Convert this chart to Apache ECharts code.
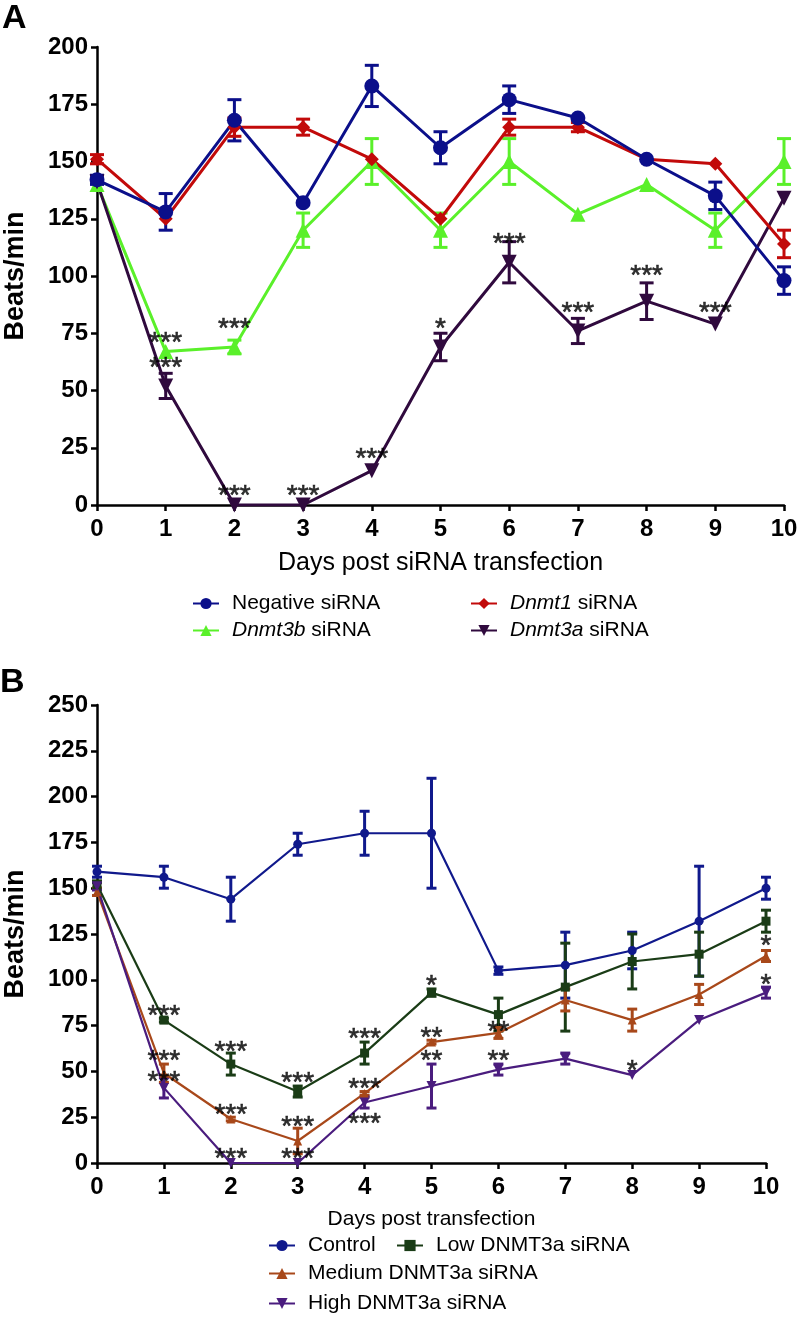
<!DOCTYPE html>
<html>
<head>
<meta charset="utf-8">
<script src="https://cdn.jsdelivr.net/npm/echarts@6/dist/echarts.min.js"></script>
<style>
  html, body { margin: 0; padding: 0; background: #fff; }
  #chart { width: 800px; height: 1320px; }
</style>
</head>
<body>
<div id="chart"></div>
<script>
// ---- data ----
const days = [0, 1, 2, 3, 4, 5, 6, 7, 8, 9, 10];

// panel A (mean, SEM)
const negMean    = [142, 128, 168, 132, 183, 156, 177, 169, 151, 135, 98];
const negErr     = [2, 8, 9, 0, 9, 7, 6, 0, 0, 6, 6];
const dnmt1Mean  = [151, 125, 165, 165, 151, 125, 165, 165, 151, 149, 114];
const dnmt1Err   = [2, 0, 4, 3.5, 0, 0, 3.5, 2, 0, 0, 6];
const dnmt3bMean = [140, 67, 69, 120, 150, 120, 150, 127, 140, 120, 150];
const dnmt3bErr  = [0, 0, 3, 7.5, 10, 7.5, 10, 0, 0, 7.5, 10];
const dnmt3aMean = [141, 52, 0, 0, 15, 69, 106, 76, 89, 79, 134];
const dnmt3aErr  = [0, 5.5, 0, 0, 0, 6, 9, 5.5, 8, 0, 0];

// panel A significance marks
const starsAx    = [1, 1, 2, 2, 3, 4, 5, 6, 7, 8, 9];
const starsAy    = [73, 62, 79, 6, 6, 22, 79, 116, 86, 102, 86];
const starsAtext = ['***', '***', '***', '***', '***', '***', '*', '***', '***', '***', '***'];

// panel B (mean, SEM)
const ctrlMean = [159, 156, 144, 174, 180, 180, 105, 108, 116, 132, 150];
const ctrlErr  = [3, 6, 12, 6, 12, 30, 2, 18, 10, 30, 6];
const lowMean  = [152, 78, 54, 39, 60, 93, 81, 96, 110, 114, 132];
const lowErr   = [2, 1, 6, 3, 6, 2, 9, 24, 15, 12, 6];
const medMean  = [148, 49, 24, 12, 38, 66, 71, 89, 78, 92, 113];
const medErr   = [2, 5, 1, 7, 1, 1, 3, 6, 6, 5.5, 3];
const highMean = [151, 41, 0, 0, 33, 42, 51, 57, 48, 78, 93];
const highErr  = [2, 5.5, 0, 0, 3, 12, 3, 3, 0, 0, 3];

// panel B significance marks
const starsBx    = [1, 1, 1, 2, 2, 2, 3, 3, 3, 4, 4, 4, 5, 5, 5, 6, 6, 8, 10, 10];
const starsBy    = [83, 58, 47, 63, 29, 5, 46, 22, 5, 70, 43, 24, 99, 71, 58, 74, 58, 53, 100, 121];
const starsBtext = ['***', '***', '***', '***', '***', '***', '***', '***', '***', '***', '***', '***',
                    '*', '**', '**', '**', '**', '*', '*', '*'];

// ---- helpers ----
const FONT = 'Arial, Helvetica, sans-serif';

function pairs(xs, ys) {
    return xs.map((x, i) => [x, ys[i]]);
}

function errData(mean, err) {
    return days.map((d, i) => [d, mean[i] - err[i], mean[i] + err[i]]);
}

function errorBars(axisIdx, mean, err, color, capW, lw) {
    return {
        type: 'custom',
        xAxisIndex: axisIdx,
        yAxisIndex: axisIdx,
        silent: true,
        z: 1,
        itemStyle: { color: color },
        encode: { x: 0, y: [1, 2] },
        data: errData(mean, err),
        renderItem: function (params, api) {
            let x = api.value(0), lo = api.value(1), hi = api.value(2);
            if (hi - lo <= 0) return;
            let pLo = api.coord([x, lo]);
            let pHi = api.coord([x, hi]);
            let style = { stroke: color, lineWidth: lw };
            return {
                type: 'group',
                children: [
                    { type: 'line', shape: { x1: pLo[0], y1: pLo[1], x2: pHi[0], y2: pHi[1] }, style: style },
                    { type: 'line', shape: { x1: pLo[0] - capW / 2, y1: pLo[1], x2: pLo[0] + capW / 2, y2: pLo[1] }, style: style },
                    { type: 'line', shape: { x1: pHi[0] - capW / 2, y1: pHi[1], x2: pHi[0] + capW / 2, y2: pHi[1] }, style: style }
                ]
            };
        }
    };
}

function lineSeries(axisIdx, name, mean, color, symbol, size, lw, rotate) {
    return {
        type: 'line',
        name: name,
        xAxisIndex: axisIdx,
        yAxisIndex: axisIdx,
        data: pairs(days, mean),
        symbol: symbol,
        symbolSize: size,
        symbolRotate: rotate || 0,
        showAllSymbol: true,
        z: 3,
        itemStyle: { color: color },
        lineStyle: { color: color, width: lw }
    };
}

function starSeries(axisIdx, xs, ys, texts) {
    return {
        type: 'scatter',
        xAxisIndex: axisIdx,
        yAxisIndex: axisIdx,
        silent: true,
        z: 5,
        symbolSize: 1,
        itemStyle: { color: 'rgba(0,0,0,0)' },
        data: xs.map((x, i) => ({ value: [x, ys[i]], label: { formatter: texts[i] } })),
        label: {
            show: true,
            position: 'inside',
            offset: [0, 5],
            color: '#000',
            fontFamily: FONT,
            fontSize: 28,
            textBorderWidth: 0.6,
            textBorderColor: '#000'
        }
    };
}

function xAxisCfg(gridIdx, name, nameSize) {
    return {
        type: 'value',
        gridIndex: gridIdx,
        min: 0, max: 10, interval: 1,
        name: name,
        nameLocation: 'middle',
        nameGap: 46,
        nameTextStyle: { fontFamily: FONT, fontSize: nameSize, color: '#000' },
        axisLine: { lineStyle: { color: '#000', width: 2.5 } },
        axisTick: { length: 6, lineStyle: { color: '#000', width: 2.5 } },
        axisLabel: { fontFamily: FONT, fontSize: 24, fontWeight: 'bold', color: '#000', margin: 12 },
        splitLine: { show: false }
    };
}

function yAxisCfg(gridIdx, maxV) {
    return {
        type: 'value',
        gridIndex: gridIdx,
        min: 0, max: maxV, interval: 25,
        name: 'Beats/min',
        nameLocation: 'middle',
        nameRotate: 90,
        nameGap: 68,
        nameTextStyle: { fontFamily: FONT, fontSize: 27, fontWeight: 'bold', color: '#000' },
        axisLine: { show: true, lineStyle: { color: '#000', width: 2.5 } },
        axisTick: { show: true, length: 6, lineStyle: { color: '#000', width: 2.5 } },
        axisLabel: { fontFamily: FONT, fontSize: 24, fontWeight: 'bold', color: '#000', margin: 9 },
        splitLine: { show: false }
    };
}

function legendCfg(name, left, centerY) {
    return {
        data: [name],
        left: left,
        top: centerY - 12,
        padding: 0,
        selectedMode: false,
        itemWidth: 26,
        itemHeight: 14,
        formatter: function (n) {
            let m = n.match(/^(Dnmt\w+) (siRNA)$/);
            return m ? '{i|' + m[1] + '} ' + m[2] : n;
        },
        textStyle: {
            fontFamily: FONT,
            fontSize: 21,
            color: '#000',
            padding: [0, 0, 0, 8],
            rich: { i: { fontFamily: FONT, fontSize: 21, fontStyle: 'italic', color: '#000' } }
        }
    };
}

// ---- colours ----
const cNeg = '#0b0f8a', cD1 = '#c20a0a', cD3b = '#5af02a', cD3a = '#300a3e';
const cCtrl = '#10198c', cLow = '#1a3c16', cMed = '#a8481a', cHigh = '#4a1c7e';

let chart = echarts.init(document.getElementById('chart'), null, { renderer: 'canvas' });

chart.setOption({
    animation: false,
    backgroundColor: '#fff',
    title: [
        { text: 'A', left: 2, top: 2, padding: 0, textStyle: { fontFamily: FONT, fontSize: 34, fontWeight: 'bold', color: '#000' } },
        { text: 'B', left: 0, top: 666, padding: 0, textStyle: { fontFamily: FONT, fontSize: 34, fontWeight: 'bold', color: '#000' } }
    ],
    grid: [
        { left: 97, right: 16, top: 47, bottom: 815, outerBoundsMode: 'none' },
        { left: 97, right: 34, top: 705, bottom: 157, outerBoundsMode: 'none' }
    ],
    xAxis: [
        xAxisCfg(0, 'Days post siRNA transfection', 25),
        xAxisCfg(1, 'Days post transfection', 21)
    ],
    yAxis: [
        yAxisCfg(0, 200),
        yAxisCfg(1, 250)
    ],
    legend: [
        legendCfg('Negative siRNA', 192, 605),
        legendCfg('Dnmt1 siRNA', 470, 605),
        legendCfg('Dnmt3b siRNA', 192, 632),
        legendCfg('Dnmt3a siRNA', 470, 632),
        legendCfg('Control', 268, 1247),
        legendCfg('Low DNMT3a siRNA', 396, 1247),
        legendCfg('Medium DNMT3a siRNA', 268, 1275),
        legendCfg('High DNMT3a siRNA', 268, 1305)
    ],
    series: [
        errorBars(0, negMean, negErr, cNeg, 14, 3),
        errorBars(0, dnmt1Mean, dnmt1Err, cD1, 14, 3),
        errorBars(0, dnmt3bMean, dnmt3bErr, cD3b, 14, 3),
        errorBars(0, dnmt3aMean, dnmt3aErr, cD3a, 14, 3),
        lineSeries(0, 'Dnmt3b siRNA', dnmt3bMean, cD3b, 'triangle', 15, 3),
        lineSeries(0, 'Dnmt3a siRNA', dnmt3aMean, cD3a, 'triangle', 15, 3, 180),
        lineSeries(0, 'Dnmt1 siRNA', dnmt1Mean, cD1, 'diamond', 14, 3),
        lineSeries(0, 'Negative siRNA', negMean, cNeg, 'circle', 15, 3),
        starSeries(0, starsAx, starsAy, starsAtext),

        errorBars(1, ctrlMean, ctrlErr, cCtrl, 10, 3),
        errorBars(1, lowMean, lowErr, cLow, 10, 3),
        errorBars(1, medMean, medErr, cMed, 10, 3),
        errorBars(1, highMean, highErr, cHigh, 10, 3),
        lineSeries(1, 'Control', ctrlMean, cCtrl, 'circle', 9, 2.2),
        lineSeries(1, 'Low DNMT3a siRNA', lowMean, cLow, 'rect', 9, 2.2),
        lineSeries(1, 'Medium DNMT3a siRNA', medMean, cMed, 'triangle', 9, 2.2),
        lineSeries(1, 'High DNMT3a siRNA', highMean, cHigh, 'triangle', 10, 2.2, 180),
        starSeries(1, starsBx, starsBy, starsBtext)
    ]
});
</script>
</body>
</html>
